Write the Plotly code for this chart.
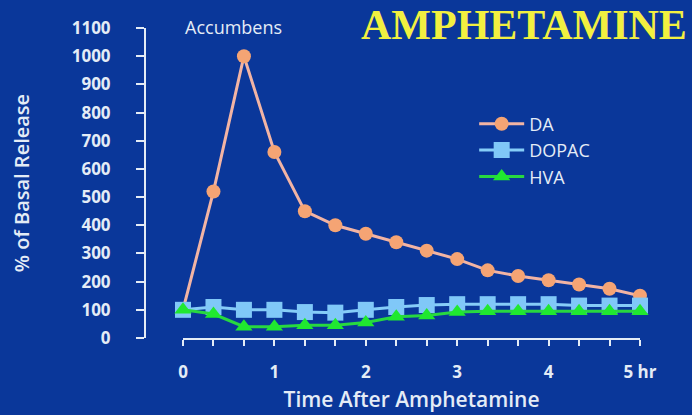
import plotly.graph_objects as go

# Sampling times (hours after amphetamine), every 20 minutes
hours = [i / 3 for i in range(16)]

# % of basal release in nucleus accumbens
da = [100, 520, 1000, 660, 450, 400, 370, 340, 310, 280, 240, 220, 205, 190, 175, 150]
dopac = [100, 110, 100, 100, 92, 90, 100, 110, 117, 120, 120, 120, 120, 115, 115, 115]
hva = [100, 85, 40, 40, 45, 45, 55, 75, 80, 92, 95, 95, 95, 95, 95, 95]

y_ticks = list(range(0, 1101, 100))
x_tick_text = ["0", "", "", "1", "", "", "2", "", "", "3", "", "", "4", "", "", "5 hr"]

bg = "#0a379a"
ink = "#e4ecf6"
sans = "Open Sans, Lato, sans-serif"

fig = go.Figure()
fig.add_trace(go.Scatter(
    x=hours, y=da, name="DA", mode="lines+markers", cliponaxis=False,
    line=dict(color="#f2b4a4", width=3),
    marker=dict(symbol="circle", size=14, color="#f5a474"),
))
fig.add_trace(go.Scatter(
    x=hours, y=dopac, name="DOPAC", mode="lines+markers", cliponaxis=False,
    line=dict(color="#86cdf8", width=3),
    marker=dict(symbol="square", size=16, color="#80c8f8"),
))
fig.add_trace(go.Scatter(
    x=hours, y=hva, name="HVA", mode="lines+markers", cliponaxis=False,
    line=dict(color="#28d840", width=3),
    marker=dict(symbol="triangle-up", size=15, color="#20e830"),
))

fig.update_layout(
    width=692, height=415,
    margin=dict(l=145, r=52, t=28, b=77, autoexpand=False),
    paper_bgcolor=bg, plot_bgcolor=bg,
    font=dict(family=sans, color=ink),
    xaxis=dict(
        domain=[38 / 495, 1], range=[0, 5], anchor="y", automargin=False,
        showgrid=False, zeroline=False,
        showline=True, linecolor=ink, linewidth=2,
        ticks="outside", ticklen=6, tickwidth=2, tickcolor=ink,
        tickmode="array", tickvals=hours, ticktext=x_tick_text,
        ticklabelstandoff=12,
        tickfont=dict(size=17, color=ink, weight="bold"),
        title=dict(text="Time After Amphetamine", font=dict(size=21, color=ink, weight=600), standoff=10),
    ),
    yaxis=dict(
        range=[0, 1100], anchor="free", position=0, automargin=False,
        showgrid=False, zeroline=False,
        showline=True, linecolor=ink, linewidth=2,
        ticks="outside", ticklen=8, tickwidth=2, tickcolor=ink,
        tickmode="array", tickvals=y_ticks,
        ticklabelstandoff=22,
        tickfont=dict(size=17, color=ink, weight="bold"),
        title=dict(text="% of Basal Release", font=dict(size=20, color=ink, weight=600), standoff=36),
    ),
    legend=dict(
        x=0.665, y=0.75, xanchor="left", yanchor="top",
        bgcolor="rgba(0,0,0,0)", font=dict(size=18, color=ink),
        tracegroupgap=0, itemwidth=45,
    ),
    annotations=[
        dict(text="Accumbens", xref="paper", yref="paper", x=38 / 495, y=1.0,
             xanchor="left", yanchor="bottom", yshift=-13, showarrow=False,
             font=dict(size=18, color=ink)),
        dict(text="<b>AMPHETAMINE</b>", xref="paper", yref="paper", x=1.098, y=1.0,
             xanchor="right", yanchor="bottom", yshift=-22, showarrow=False,
             font=dict(family="Liberation Serif, Times New Roman, serif", size=42, color="#f2f040")),
    ],
)

fig.write_html("out.html")
